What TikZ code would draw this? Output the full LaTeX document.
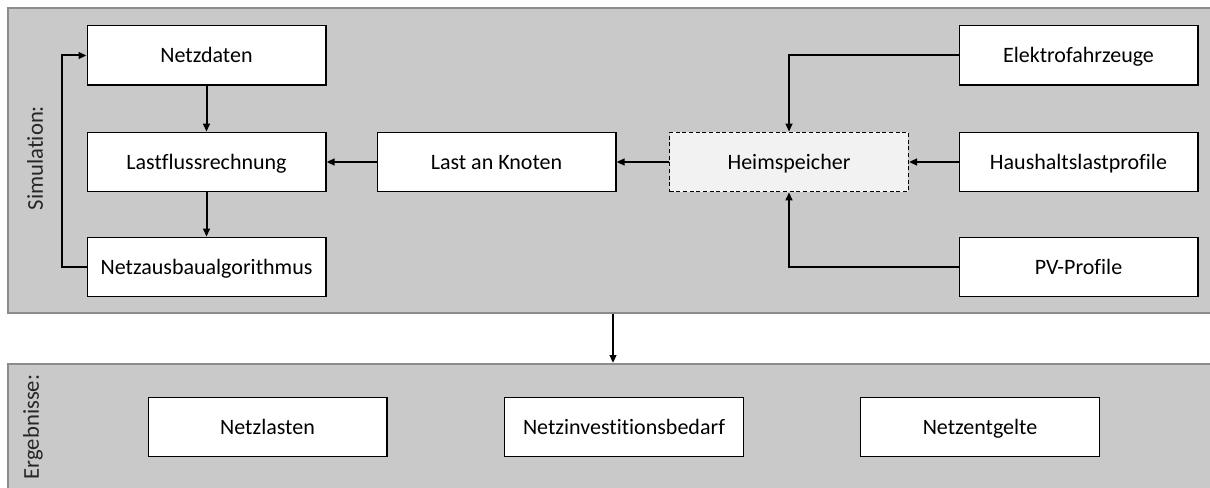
\documentclass[tikz,border=0pt]{standalone}
\usepackage{fontspec}
\setmainfont{Carlito}[Ligatures=NoCommon]
\usetikzlibrary{arrows.meta,positioning}

\begin{document}
\begin{tikzpicture}[x=0.75pt, y=-0.75pt,
    panel/.style={draw=black!45, fill=black!21, line width=1.5pt, inner sep=0pt},
    box/.style={draw, fill=white, line width=1pt, minimum width=179pt, minimum height=44.5pt, text height=10.6pt, text depth=0pt, align=center, font=\fontsize{16.5}{19}\selectfont},
    opt/.style={box, dashed, dash pattern=on 3pt off 2pt, fill=black!5},
    side/.style={rotate=90, font=\fontsize{17}{20}\selectfont, text=black!85},
    arr/.style={-{Triangle[length=6pt, width=5pt]}, line width=1.5pt}
]
\useasboundingbox (0,0) rectangle (1210,488);
\node[panel, minimum width=907.5pt, minimum height=228.75pt] (sim) at (613,160.5) {};
\node[panel, minimum width=907.5pt, minimum height=102pt] (erg) at (613,432) {};
\node[side] (simlbl) at (35,158) {Simulation:};
\node[side] (erglbl) at (33,427) {Ergebnisse:};

\node[box] (netz) at (206.5,55.5) {Netzdaten};
\node[box] (lfr) at (206.5,162) {Lastflussrechnung};
\node[box] (nag) at (206.5,267) {Netzausbaualgorithmus};
\node[box] (last) at (496.5,162) {Last an Knoten};
\node[opt] (heim) at (789,162) {Heimspeicher};
\node[box] (ev) at (1078.5,55.5) {Elektrofahrzeuge};
\node[box] (hlp) at (1078.5,162) {Haushaltslastprofile};
\node[box] (pv) at (1078.5,267) {PV-Profile};

\node[box] (nl) at (267.5,427) {Netzlasten};
\node[box] (nib) at (624,427) {Netzinvestitionsbedarf};
\node[box] (ne) at (980,427) {Netzentgelte};

\draw[arr] (netz) -- (lfr);
\draw[arr] (lfr) -- (nag);
\draw[arr] (nag.west) -- ++(-25,0) |- (netz.west);
\draw[arr] (last) -- (lfr);
\draw[arr] (heim) -- (last);
\draw[arr] (hlp) -- (heim);
\draw[arr] (ev.west) -| (heim.north);
\draw[arr] (pv.west) -| (heim.south);
\draw[arr] (sim.south) -- (erg.north);
\end{tikzpicture}
\end{document}
